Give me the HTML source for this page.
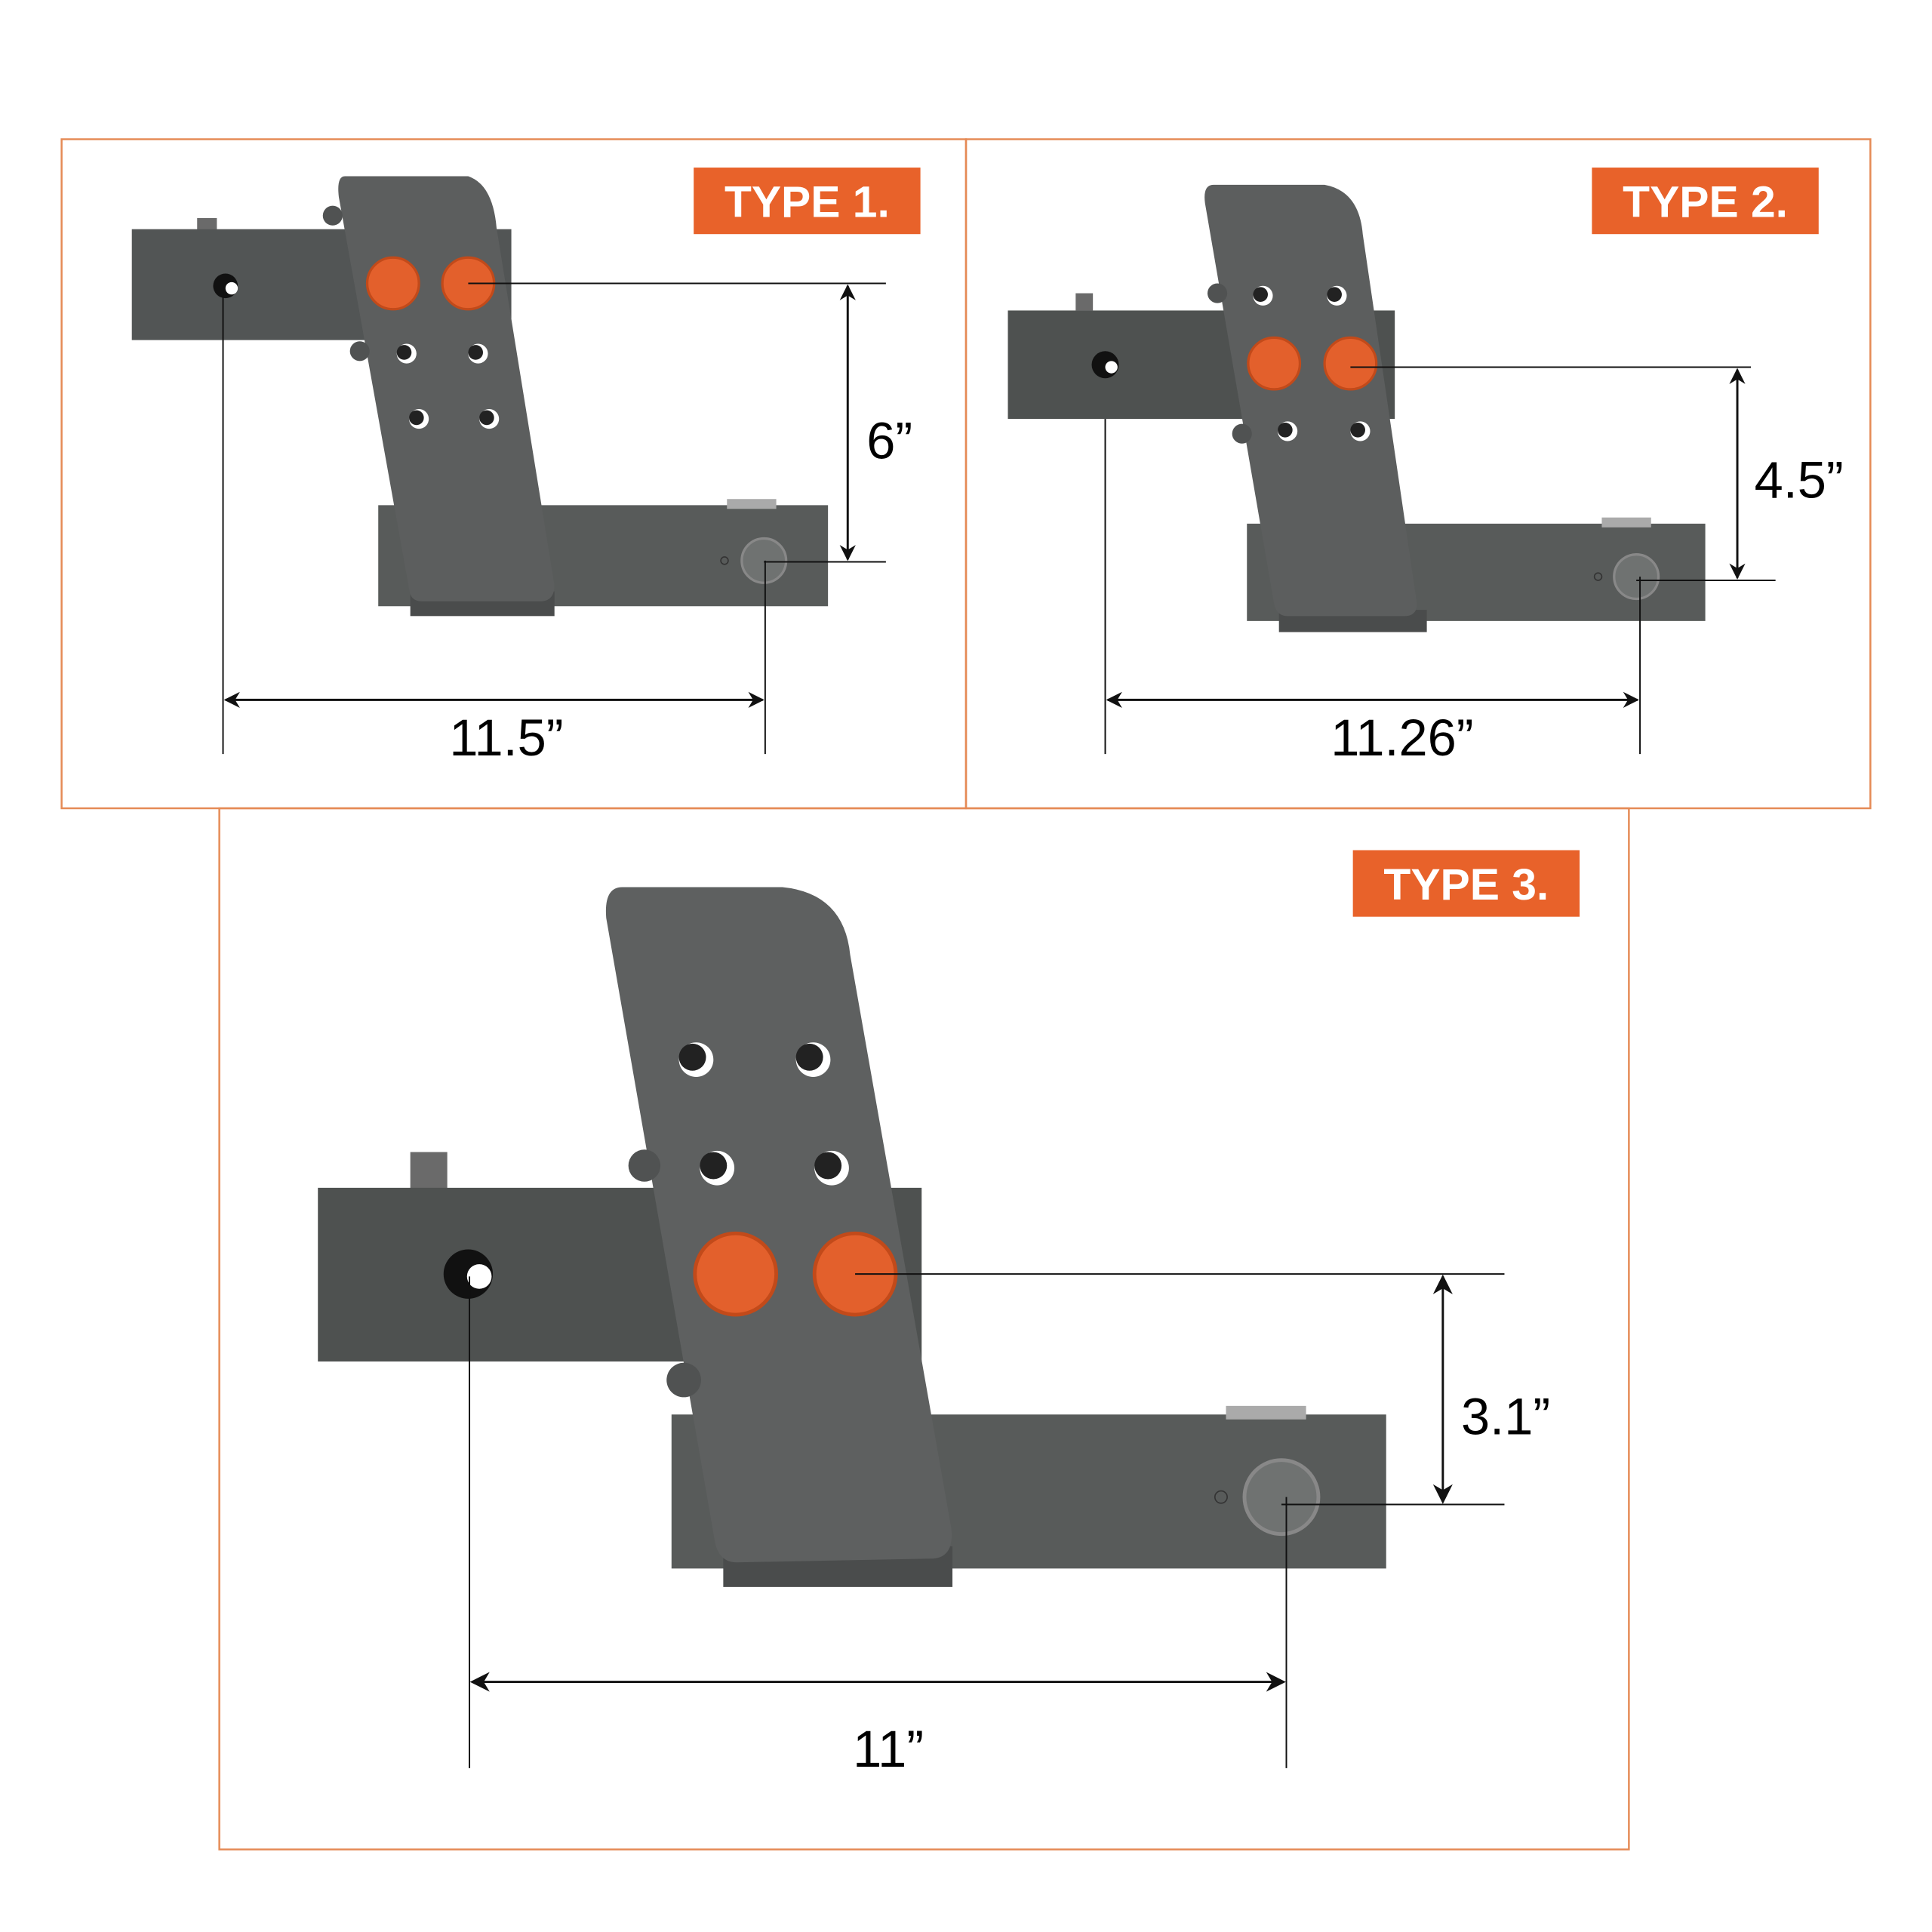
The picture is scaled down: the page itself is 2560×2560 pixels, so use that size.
<!DOCTYPE html>
<html><head><meta charset="utf-8"><style>
html,body{margin:0;padding:0;background:#fff;}
svg{display:block}
text{font-family:"Liberation Sans",Arial,sans-serif}
</style></head><body>
<svg width="2560" height="2560" viewBox="0 0 1568 1568" xmlns="http://www.w3.org/2000/svg">
<defs>
<marker id="ar" viewBox="0 0 10 10" refX="9" refY="5" markerWidth="13" markerHeight="13" orient="auto-start-reverse" markerUnits="userSpaceOnUse">
<path d="M0,0 L10,5 L0,10 L3,5 z" fill="#111"/></marker>
<marker id="ar2" viewBox="0 0 10 10" refX="9" refY="5" markerWidth="16" markerHeight="16" orient="auto-start-reverse" markerUnits="userSpaceOnUse">
<path d="M0,0 L10,5 L0,10 L3,5 z" fill="#111"/></marker>
</defs>
<rect width="1568" height="1568" fill="#fff"/>
<g fill="none" stroke="#e58a55" stroke-width="1.5">
<rect x="50" y="113" width="734" height="543"/>
<rect x="784" y="113" width="734" height="543"/>
<rect x="178" y="656" width="1144" height="845"/>
</g>
<g fill="#e8622a"><rect x="563" y="136" width="184" height="54"/><rect x="1292" y="136" width="184" height="54"/><rect x="1098" y="690" width="184" height="54"/></g>
<g fill="#fff" font-weight="bold" font-size="36" text-anchor="middle">
<text x="655" y="176">TYPE 1.</text><text x="1384" y="176">TYPE 2.</text><text x="1190" y="730">TYPE 3.</text></g>

<!-- TYPE 1 -->
<g>
<rect x="160" y="177" width="16" height="10" fill="#6a6a6a"/>
<rect x="107" y="186" width="308" height="90" fill="#525555"/>
<rect x="307" y="410" width="365" height="82" fill="#585b5a"/>
<rect x="590" y="405" width="40" height="8" fill="#aaa"/>
<rect x="333" y="480" width="117" height="20" fill="#4a4c4c"/>
<path d="M280,143 L380,143 Q400,150 403,185 L450,475 Q450,487 440,488 L342,488 Q333,488 332,478 L275,160 Q273,143 280,143 Z" fill="#5c5e5e"/>
<circle cx="270" cy="175" r="8" fill="#505252"/><circle cx="292" cy="285" r="8" fill="#505252"/>
<circle cx="183" cy="232" r="10" fill="#111"/><circle cx="188" cy="234" r="5" fill="#fff"/>
<g fill="#fff"><circle cx="330" cy="287" r="8"/><circle cx="388" cy="287" r="8"/><circle cx="340" cy="340" r="8"/><circle cx="397" cy="340" r="8"/></g>
<g fill="#222"><circle cx="328" cy="286" r="6"/><circle cx="386" cy="286" r="6"/><circle cx="338" cy="339" r="6"/><circle cx="395" cy="339" r="6"/></g>
<g fill="#e3602c" stroke="#c24a1a" stroke-width="2"><circle cx="319" cy="230" r="21"/><circle cx="380" cy="230" r="21"/></g>
<circle cx="620" cy="455" r="18" fill="#6f7271" stroke="#888" stroke-width="2"/><circle cx="588" cy="455" r="3" fill="none" stroke="#333"/>
<g stroke="#111" stroke-width="1.2" fill="none">
<line x1="380" y1="230" x2="719" y2="230"/><line x1="620" y1="456" x2="719" y2="456"/>
<line x1="688" y1="232" x2="688" y2="454" marker-start="url(#ar)" marker-end="url(#ar)" stroke-width="1.8"/>
<line x1="181" y1="232" x2="181" y2="612"/><line x1="621" y1="455" x2="621" y2="612"/>
<line x1="183" y1="568" x2="619" y2="568" marker-start="url(#ar)" marker-end="url(#ar)" stroke-width="1.8"/>
</g>
<text x="722" y="372" font-size="42" text-anchor="middle">6”</text>
<text x="411" y="613" font-size="42" text-anchor="middle">11.5”</text>
</g>

<!-- TYPE 2 -->
<g>
<rect x="873" y="238" width="14" height="14" fill="#6a6a6a"/>
<rect x="818" y="252" width="314" height="88" fill="#4e5150"/>
<rect x="1012" y="425" width="372" height="79" fill="#585b5a"/>
<rect x="1300" y="420" width="40" height="8" fill="#aaa"/>
<rect x="1038" y="495" width="120" height="18" fill="#4a4c4c"/>
<path d="M985,150 L1075,150 Q1103,155 1106,190 L1150,490 Q1150,500 1140,500 L1045,500 Q1036,500 1034,490 L978,165 Q976,150 985,150 Z" fill="#5c5e5e"/>
<circle cx="988" cy="238" r="8" fill="#505252"/><circle cx="1008" cy="352" r="8" fill="#505252"/>
<circle cx="897" cy="296" r="11" fill="#111"/><circle cx="902" cy="298" r="5" fill="#fff"/>
<g fill="#fff"><circle cx="1025" cy="240" r="8"/><circle cx="1085" cy="240" r="8"/><circle cx="1045" cy="350" r="8"/><circle cx="1104" cy="350" r="8"/></g>
<g fill="#222"><circle cx="1023" cy="239" r="6"/><circle cx="1083" cy="239" r="6"/><circle cx="1043" cy="349" r="6"/><circle cx="1102" cy="349" r="6"/></g>
<g fill="#e3602c" stroke="#c24a1a" stroke-width="2"><circle cx="1034" cy="295" r="21"/><circle cx="1096" cy="295" r="21"/></g>
<circle cx="1328" cy="468" r="18" fill="#6f7271" stroke="#888" stroke-width="2"/><circle cx="1297" cy="468" r="3" fill="none" stroke="#333"/>
<g stroke="#111" stroke-width="1.2" fill="none">
<line x1="1096" y1="298" x2="1421" y2="298"/><line x1="1328" y1="471" x2="1441" y2="471"/>
<line x1="1410" y1="300" x2="1410" y2="469" marker-start="url(#ar)" marker-end="url(#ar)" stroke-width="1.8"/>
<line x1="897" y1="340" x2="897" y2="612"/><line x1="1331" y1="468" x2="1331" y2="612"/>
<line x1="899" y1="568" x2="1329" y2="568" marker-start="url(#ar)" marker-end="url(#ar)" stroke-width="1.8"/>
</g>
<text x="1460" y="404" font-size="42" text-anchor="middle">4.5”</text>
<text x="1138" y="613" font-size="42" text-anchor="middle">11.26”</text>
</g>

<!-- TYPE 3 -->
<g>
<rect x="333" y="935" width="30" height="30" fill="#6a6a6a"/>
<rect x="258" y="964" width="490" height="141" fill="#4e5150"/>
<rect x="545" y="1148" width="580" height="125" fill="#585b5a"/>
<rect x="995" y="1141" width="65" height="11" fill="#aaa"/>
<rect x="587" y="1255" width="186" height="33" fill="#4a4c4c"/>
<path d="M505,720 L635,720 Q685,725 690,775 L772,1240 Q775,1265 755,1265 L598,1268 Q583,1268 580,1250 L492,745 Q490,720 505,720 Z" fill="#5e6060"/>
<circle cx="523" cy="946" r="13" fill="#505252"/><circle cx="555" cy="1120" r="14" fill="#505252"/>
<circle cx="380" cy="1034" r="20" fill="#111"/><circle cx="389" cy="1036" r="10" fill="#fff"/>
<g fill="#fff"><circle cx="565" cy="860" r="14"/><circle cx="660" cy="860" r="14"/><circle cx="582" cy="948" r="14"/><circle cx="675" cy="948" r="14"/></g>
<g fill="#222"><circle cx="562" cy="858" r="11"/><circle cx="657" cy="858" r="11"/><circle cx="579" cy="946" r="11"/><circle cx="672" cy="946" r="11"/></g>
<g fill="#e3602c" stroke="#c24a1a" stroke-width="3"><circle cx="597" cy="1034" r="33"/><circle cx="694" cy="1034" r="33"/></g>
<circle cx="1040" cy="1215" r="30" fill="#6f7271" stroke="#888" stroke-width="3"/><circle cx="991" cy="1215" r="5" fill="none" stroke="#333"/>
<g stroke="#111" stroke-width="1.2" fill="none">
<line x1="694" y1="1034" x2="1221" y2="1034"/><line x1="1040" y1="1221" x2="1221" y2="1221"/>
<line x1="1171" y1="1036" x2="1171" y2="1219" marker-start="url(#ar2)" marker-end="url(#ar2)" stroke-width="1.8"/>
<line x1="381" y1="1036" x2="381" y2="1435"/><line x1="1044" y1="1215" x2="1044" y2="1435"/>
<line x1="383" y1="1365" x2="1042" y2="1365" marker-start="url(#ar2)" marker-end="url(#ar2)" stroke-width="1.8"/>
</g>
<text x="1222" y="1164" font-size="42" text-anchor="middle">3.1”</text>
<text x="721" y="1434" font-size="42" text-anchor="middle">11”</text>
</g>
</svg>
</body></html>
